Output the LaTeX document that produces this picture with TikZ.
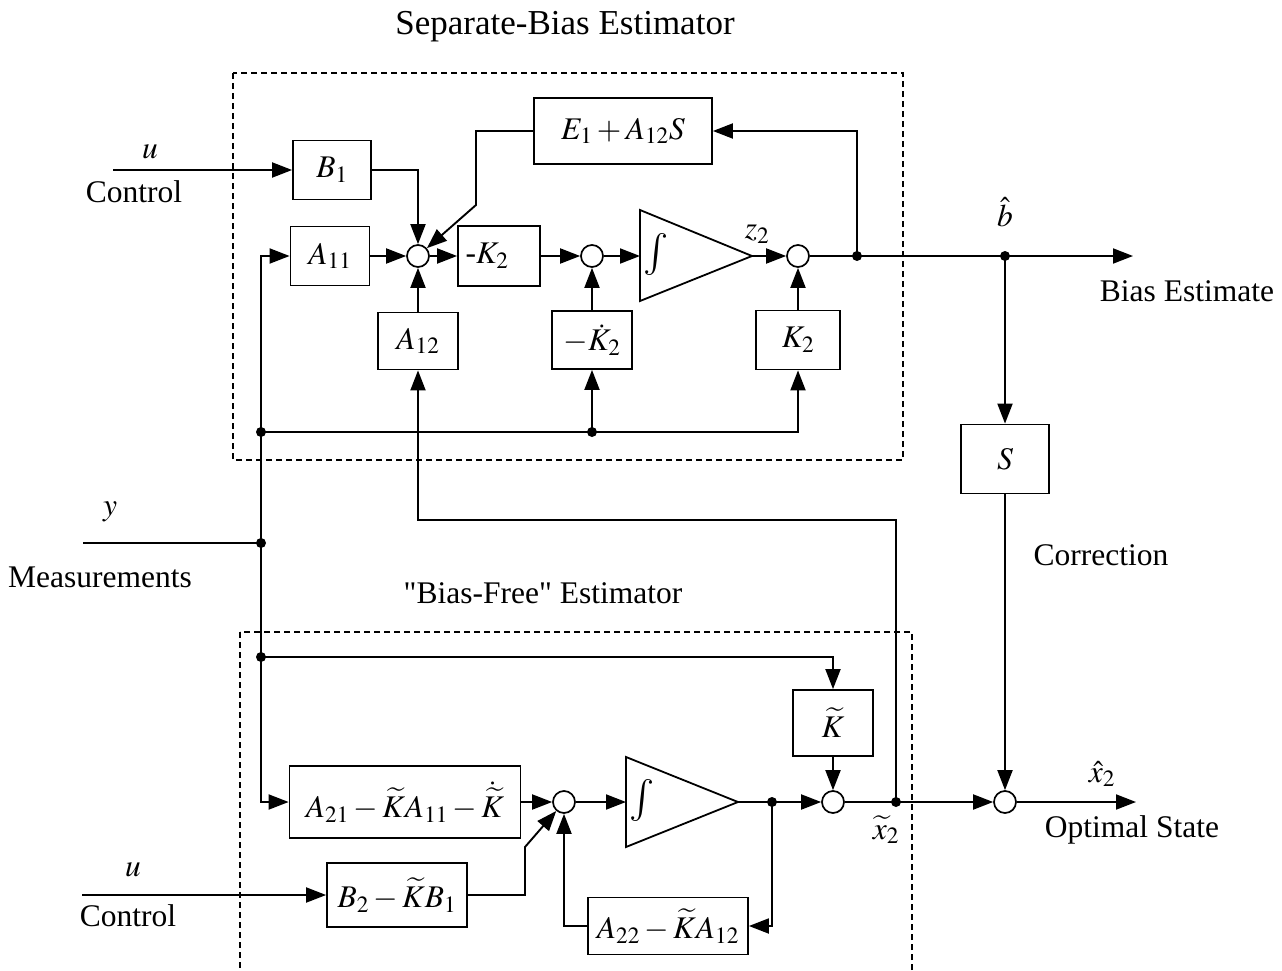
\documentclass[tikz,border=0pt]{standalone}
\usepackage{mathptmx}
\usepackage{fontspec}
\setmainfont{Liberation Serif}
\usetikzlibrary{arrows.meta}
\begin{document}
\begin{tikzpicture}[x=1pt,y=-1pt,
  every node/.style={font=\fontsize{31.5}{37}\selectfont},
  blk/.style={draw, line width=1.8pt, inner sep=0pt},
  sumc/.style={draw, circle, line width=1.7pt, minimum size=22pt, inner sep=0pt},
  sig/.style={line width=1.9pt, -{Triangle[length=20pt,width=15pt]}},
  ln/.style={line width=1.9pt},
  jdot/.style={circle, fill, inner sep=0pt, minimum size=10pt},
  bound/.style={line width=1.1pt, dash pattern=on 6pt off 4pt},
  lbl/.style={inner sep=0pt},
  intg/.style={line width=1.8pt}
]
\useasboundingbox (0,0) rectangle (1282,971);

% ---------- dashed frames ----------
\draw[bound] (233,73) rectangle (903,460);
\draw[bound] (240,632) rectangle (912,1000);
\node[lbl, font=\fontsize{35}{40}\selectfont] (t1) at (565,27) {Separate-Bias Estimator};
\node[lbl] (t2) at (543,593) {\addfontfeature{Ligatures=TeXOff}"Bias-Free" Estimator};

% ---------- top estimator ----------
\node[blk, minimum width=78pt, minimum height=59pt] (B1) at (332,170) {$B_1$};
\node[blk, minimum width=79pt, minimum height=59pt] (A11) at (330,256) {$A_{11}$};
\node[sumc] (s1) at (418,256) {};
\node[blk, minimum width=82pt, minimum height=60pt] (mK2) at (499,256) {-$K_2$\kern24pt};
\node[sumc] (s2) at (592,256) {};
\node[blk, minimum width=178pt, minimum height=66pt] (E) at (623,131) {$E_1 + A_{12}S$};
\node[blk, minimum width=80pt, minimum height=57pt] (A12) at (418,341) {$A_{12}$};
\node[blk, minimum width=80pt, minimum height=58pt] (mKd) at (592,340) {$-\dot K_2$};
\node[blk, minimum width=84pt, minimum height=59pt] (K2) at (798,340) {$K_2$};
\node[sumc] (s3) at (798,256) {};

% integrator 1
\coordinate (i1in) at (640,256);
\coordinate (i1out) at (752,256);
\draw[intg] (640,210) -- (640,301) -- (i1out) -- cycle;
\node[lbl, font=\fontsize{42}{46}\selectfont] (int1) at (656,254) {$\int$};
\node[lbl] (z2) at (757,234) {$z_2$};

% junctions
\node[jdot] (j1) at (857,256) {};
\node[jdot] (bd) at (1005,256) {};
\coordinate (bend) at (1133,256);
\node[jdot] (dL) at (261,432) {};
\node[jdot] (dM) at (592,432) {};
\node[jdot] (dY) at (261,543) {};
\node[jdot] (dB) at (261,657) {};
\coordinate (yin) at (83,543);
\coordinate (uin1) at (113,170);
\coordinate (ecorner1) at (476,131);
\coordinate (ecorner2) at (476,205);

% top connections
\draw[sig] (uin1) -- (B1.west);
\draw[sig] (B1.east) -| (s1.north);
\draw[sig] (A11.east) -- (s1.west);
\draw[sig] (A12.north) -- (s1.south);
\draw[sig] (E.west) -- (ecorner1) -- (ecorner2) -- (s1);
\draw[sig] (s1.east) -- (mK2.west);
\draw[sig] (mK2.east) -- (s2.west);
\draw[sig] (mKd.north) -- (s2.south);
\draw[sig] (s2.east) -- (i1in);
\draw[sig] (i1out) -- (s3.west);
\draw[sig] (K2.north) -- (s3.south);
\draw[ln] (s3.east) -- (j1.center) -- (bd.center);
\draw[sig] (bd.center) -- (bend);
\draw[sig] (j1.center) |- (E.east);
\draw[sig] (dL.center) |- (A11.west);
\draw[ln] (dL.center) -- (dM.center);
\draw[sig] (dM.center) -| (K2.south);
\draw[sig] (dM.center) -- (mKd.south);
\draw[ln] (dL.center) -- (dY.center) -- (dB.center);
\draw[ln] (yin) -- (dY.center);

% S branch
\node[blk, minimum width=88pt, minimum height=69pt] (S) at (1005,459) {$S$};
\draw[sig] (bd.center) -- (S.north);

% ---------- bottom estimator ----------
\node[blk, minimum width=231pt, minimum height=72pt] (A21) at (405,802) {$A_{21} - \widetilde{K}A_{11} - \dot{\widetilde{K}}$};
\node[sumc] (s4) at (564,802) {};
\node[blk, minimum width=80pt, minimum height=66pt] (Kt) at (833,723) {$\widetilde{K}$};
\node[sumc] (s5) at (833,802) {};
\node[blk, minimum width=160pt, minimum height=57pt] (A22) at (668,926) {$A_{22} - \widetilde{K}A_{12}$};
\node[blk, minimum width=140pt, minimum height=64pt] (B2) at (397,895) {$B_2 - \widetilde{K}B_1$};
\node[sumc] (s6) at (1005,802) {};

\coordinate (i2in) at (626,802);
\coordinate (i2out) at (738,802);
\draw[intg] (626,757) -- (626,847) -- (i2out) -- cycle;
\node[lbl, font=\fontsize{42}{46}\selectfont] (int2) at (642,800) {$\int$};

\node[jdot] (j2) at (772,802) {};
\node[jdot] (xd) at (896,802) {};
\coordinate (xend) at (1136,802);
\coordinate (uin2) at (82,895);
\coordinate (bcorner1) at (525,895);
\coordinate (bcorner2) at (525,847);
\coordinate (fb1) at (896,520);
\coordinate (fb2) at (418,520);

\draw[sig] (dB.center) |- (A21.west);
\draw[sig] (dB.center) -| (Kt.north);
\draw[sig] (A21.east) -- (s4.west);
\draw[sig] (s4.east) -- (i2in);
\draw[ln] (i2out) -- (j2.center);
\draw[sig] (j2.center) -- (s5.west);
\draw[sig] (Kt.south) -- (s5.north);
\draw[ln] (s5.east) -- (xd.center);
\draw[sig] (xd.center) -- (s6.west);
\draw[sig] (s6.east) -- (xend);
\draw[sig] (j2.center) |- (A22.east);
\draw[sig] (A22.west) -| (s4.south);
\draw[sig] (uin2) -- (B2.west);
\draw[sig] (B2.east) -- (bcorner1) -- (bcorner2) -- (s4);
\draw[sig] (xd.center) -- (fb1) -- (fb2) -- (A12.south);
\draw[sig] (S.south) -- (s6.north);

% ---------- labels ----------
\node[lbl] (lu1) at (150,152) {$u$};
\node[lbl] (lc1) at (134,192) {Control};
\node[lbl] (ly) at (110,512) {$y$};
\node[lbl] (lm) at (100,577) {Measurements};
\node[lbl] (lu2) at (133,870) {$u$};
\node[lbl] (lc2) at (128,916) {Control};
\node[lbl] (lb) at (1005,212) {$\hat{b}$};
\node[lbl] (lbe) at (1187,291) {Bias Estimate};
\node[lbl] (lcor) at (1101,555) {Correction};
\node[lbl] (lxt) at (886,830) {$\widetilde{x}_2$};
\node[lbl] (lxh) at (1102,774) {$\hat{x}_2$};
\node[lbl] (los) at (1132,830) {Optimal State};
\end{tikzpicture}
\end{document}
